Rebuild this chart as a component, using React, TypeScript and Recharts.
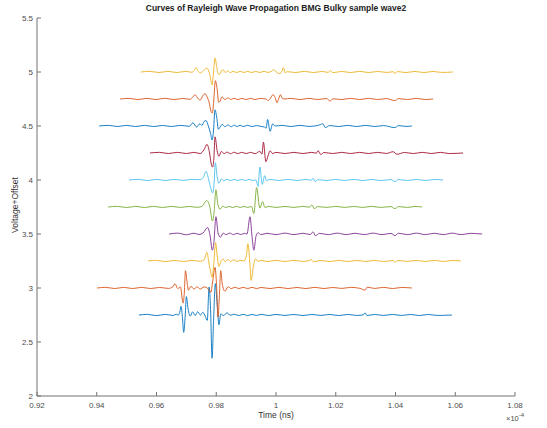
import React from 'react';
import { LineChart, Line, XAxis, YAxis } from 'recharts';

// time in units of 1e-4, voltage + offset
const timeTicks = [0.92, 0.94, 0.96, 0.98, 1, 1.02, 1.04, 1.06, 1.08];
const voltTicks = [2, 2.5, 3, 3.5, 4, 4.5, 5, 5.5];

const wave1: [number, number][] = [
  [0.9541, 2.75], [0.957, 2.756], [0.96, 2.744], [0.963, 2.756], [0.9655, 2.745], [0.9666, 2.757], [0.9673, 2.748],
  [0.9679, 2.79], [0.9682, 2.83], [0.9687, 2.72], [0.9691, 2.59], [0.9696, 2.74], [0.97, 2.92], [0.9705, 2.82],
  [0.9713, 2.74], [0.9721, 2.78], [0.9729, 2.745], [0.9738, 2.78], [0.9747, 2.75], [0.9755, 2.775], [0.9763, 2.74],
  [0.977, 2.7], [0.9776, 3.01], [0.9781, 2.8], [0.9786, 2.35], [0.9791, 2.7], [0.9797, 3.04], [0.9803, 2.85],
  [0.9809, 2.66], [0.9815, 2.76], [0.9824, 2.745], [0.9836, 2.77], [0.9847, 2.748], [0.986, 2.757], [0.9875, 2.745],
  [0.989, 2.756], [0.9905, 2.745], [0.992, 2.755], [0.9935, 2.746], [0.995, 2.756], [0.9975, 2.745], [1.0, 2.755],
  [1.003, 2.746], [1.006, 2.755], [1.009, 2.745], [1.012, 2.755], [1.015, 2.746], [1.018, 2.755], [1.021, 2.745],
  [1.024, 2.755], [1.027, 2.746], [1.0293, 2.752], [1.0298, 2.77], [1.0305, 2.745], [1.033, 2.755], [1.036, 2.746],
  [1.039, 2.755], [1.042, 2.746], [1.045, 2.755], [1.048, 2.745], [1.051, 2.755], [1.054, 2.746], [1.0589, 2.75],
];

const wave2: [number, number][] = [
  [0.9401, 3.0], [0.943, 3.006], [0.946, 2.995], [0.949, 3.006], [0.952, 2.995], [0.955, 3.006], [0.958, 2.995],
  [0.961, 3.005], [0.964, 2.996], [0.9655, 3.012], [0.9662, 3.04], [0.9671, 2.995], [0.968, 3.01], [0.9689, 2.86],
  [0.9693, 2.95], [0.9697, 3.16], [0.9702, 3.06], [0.9707, 2.98], [0.9715, 3.015], [0.9726, 2.99], [0.9736, 3.012],
  [0.9746, 2.99], [0.9759, 3.01], [0.9772, 2.995], [0.9782, 2.96], [0.9788, 3.06], [0.9796, 3.19], [0.9801, 3.03],
  [0.9806, 2.73], [0.981, 2.9], [0.9815, 3.16], [0.982, 3.04], [0.9829, 2.97], [0.984, 3.012], [0.985, 2.994],
  [0.9862, 3.007], [0.9876, 2.995], [0.989, 3.006], [0.9905, 2.995], [0.992, 3.006], [0.9935, 2.995], [0.995, 3.005],
  [0.998, 2.995], [1.001, 3.006], [1.004, 2.995], [1.007, 3.005], [1.01, 2.995], [1.013, 3.006], [1.016, 2.995],
  [1.019, 3.005], [1.022, 2.996], [1.025, 3.006], [1.028, 2.997], [1.0298, 2.98], [1.0305, 3.008], [1.033, 2.996],
  [1.036, 3.006], [1.039, 2.995], [1.042, 3.005], [1.0455, 3.0],
];

const wave3: [number, number][] = [
  [0.9572, 3.25], [0.96, 3.256], [0.963, 3.244], [0.966, 3.256], [0.969, 3.245], [0.972, 3.256], [0.9746, 3.247],
  [0.9759, 3.26], [0.9769, 3.33], [0.9775, 3.24], [0.9782, 3.14], [0.9786, 3.1], [0.9791, 3.2], [0.9798, 3.42],
  [0.9803, 3.3], [0.9809, 3.2], [0.9816, 3.25], [0.9823, 3.268], [0.983, 3.244], [0.9839, 3.265], [0.9848, 3.245],
  [0.9858, 3.26], [0.987, 3.246], [0.988, 3.256], [0.9893, 3.25], [0.9901, 3.3], [0.9906, 3.41], [0.9912, 3.25],
  [0.9917, 3.07], [0.9924, 3.2], [0.9932, 3.27], [0.994, 3.245], [0.995, 3.257], [0.997, 3.245], [1.0, 3.256],
  [1.003, 3.245], [1.006, 3.256], [1.009, 3.246], [1.0112, 3.254], [1.0118, 3.264], [1.0125, 3.243], [1.015, 3.255],
  [1.018, 3.245], [1.021, 3.256], [1.024, 3.245], [1.027, 3.255], [1.03, 3.246], [1.033, 3.256], [1.036, 3.245],
  [1.0392, 3.254], [1.0398, 3.238], [1.0406, 3.255], [1.044, 3.246], [1.047, 3.256], [1.05, 3.245], [1.053, 3.256],
  [1.056, 3.245], [1.059, 3.255], [1.0619, 3.25],
];

const wave4: [number, number][] = [
  [0.9642, 3.5], [0.967, 3.508], [0.97, 3.493], [0.9725, 3.507], [0.9742, 3.496], [0.9756, 3.51], [0.9771, 3.56],
  [0.9779, 3.49], [0.9787, 3.35], [0.9792, 3.42], [0.9799, 3.66], [0.9806, 3.51], [0.9814, 3.47], [0.9823, 3.508],
  [0.9833, 3.494], [0.9845, 3.508], [0.9858, 3.494], [0.987, 3.507], [0.9882, 3.495], [0.9895, 3.506], [0.9903, 3.5],
  [0.9913, 3.66], [0.9919, 3.5], [0.9926, 3.35], [0.9933, 3.48], [0.994, 3.512], [0.995, 3.494], [0.997, 3.507],
  [1.0, 3.494], [1.003, 3.508], [1.006, 3.494], [1.009, 3.507], [1.0115, 3.495], [1.0124, 3.52], [1.0132, 3.484],
  [1.0145, 3.506], [1.0175, 3.494], [1.0205, 3.508], [1.0235, 3.494], [1.0265, 3.507], [1.0295, 3.494], [1.0325, 3.508],
  [1.0355, 3.494], [1.0385, 3.506], [1.0398, 3.485], [1.041, 3.507], [1.044, 3.494], [1.047, 3.508], [1.05, 3.494],
  [1.053, 3.507], [1.056, 3.494], [1.059, 3.508], [1.062, 3.494], [1.065, 3.506], [1.069, 3.5],
];

const wave5: [number, number][] = [
  [0.9438, 3.75], [0.947, 3.756], [0.95, 3.745], [0.953, 3.756], [0.956, 3.745], [0.959, 3.756], [0.962, 3.745],
  [0.965, 3.756], [0.968, 3.746], [0.971, 3.755], [0.9735, 3.747], [0.9752, 3.756], [0.9768, 3.81], [0.9779, 3.745],
  [0.9787, 3.62], [0.9792, 3.68], [0.9799, 3.91], [0.9805, 3.78], [0.9813, 3.73], [0.9822, 3.758], [0.9832, 3.744],
  [0.9843, 3.756], [0.9855, 3.745], [0.9868, 3.756], [0.988, 3.746], [0.9893, 3.755], [0.9905, 3.746], [0.9918, 3.755],
  [0.9926, 3.69], [0.9935, 3.93], [0.9946, 3.74], [0.9955, 3.8], [0.9963, 3.745], [0.9975, 3.756], [1.0, 3.746],
  [1.003, 3.755], [1.006, 3.746], [1.009, 3.756], [1.0112, 3.748], [1.012, 3.77], [1.0128, 3.735], [1.014, 3.754],
  [1.017, 3.746], [1.02, 3.756], [1.023, 3.746], [1.026, 3.755], [1.029, 3.746], [1.032, 3.756], [1.035, 3.746],
  [1.0385, 3.754], [1.0398, 3.735], [1.041, 3.754], [1.044, 3.746], [1.0465, 3.755], [1.0489, 3.75],
];

const wave6: [number, number][] = [
  [0.9508, 4.0], [0.954, 4.006], [0.957, 3.995], [0.96, 4.006], [0.963, 3.995], [0.966, 4.006], [0.969, 3.996],
  [0.9715, 4.006], [0.9746, 4.003], [0.9756, 4.02], [0.9766, 4.08], [0.9775, 4.0], [0.9782, 3.92], [0.9788, 3.88],
  [0.9793, 3.98], [0.9797, 4.16], [0.9803, 4.03], [0.9809, 3.97], [0.9817, 4.01], [0.9826, 3.994], [0.9836, 4.007],
  [0.9848, 3.995], [0.986, 4.006], [0.9872, 3.995], [0.9885, 4.006], [0.9898, 3.995], [0.991, 4.006], [0.9922, 3.995],
  [0.9933, 4.0], [0.994, 3.94], [0.9946, 4.12], [0.9954, 3.96], [0.9962, 4.04], [0.9968, 3.995], [0.998, 4.006],
  [1.001, 3.995], [1.004, 4.006], [1.007, 3.995], [1.01, 4.005], [1.0118, 3.998], [1.0124, 4.016], [1.0131, 3.985],
  [1.014, 4.003], [1.017, 3.995], [1.02, 4.006], [1.023, 3.995], [1.026, 4.006], [1.029, 3.995], [1.032, 4.005],
  [1.035, 3.995], [1.0385, 4.004], [1.0398, 3.985], [1.041, 4.004], [1.044, 3.995], [1.047, 4.006], [1.05, 3.995],
  [1.053, 4.005], [1.0559, 4.0],
];

const wave7: [number, number][] = [
  [0.9578, 4.25], [0.961, 4.256], [0.964, 4.245], [0.967, 4.256], [0.97, 4.245], [0.9725, 4.256], [0.9746, 4.245],
  [0.9759, 4.28], [0.9769, 4.33], [0.9777, 4.26], [0.9784, 4.14], [0.9788, 4.12], [0.9792, 4.2], [0.9796, 4.4],
  [0.9803, 4.27], [0.9809, 4.22], [0.9817, 4.265], [0.9826, 4.244], [0.9836, 4.258], [0.9848, 4.243], [0.986, 4.257],
  [0.9872, 4.244], [0.9885, 4.256], [0.99, 4.245], [0.9915, 4.256], [0.993, 4.244], [0.9946, 4.265], [0.9953, 4.24],
  [0.9958, 4.35], [0.9966, 4.17], [0.9973, 4.22], [0.998, 4.27], [0.9989, 4.245], [1.0, 4.256], [1.003, 4.245],
  [1.006, 4.256], [1.009, 4.245], [1.012, 4.256], [1.0135, 4.248], [1.0141, 4.272], [1.015, 4.235], [1.016, 4.255],
  [1.019, 4.245], [1.022, 4.256], [1.025, 4.245], [1.028, 4.256], [1.031, 4.245], [1.034, 4.256], [1.037, 4.246],
  [1.0392, 4.262], [1.0405, 4.238], [1.043, 4.255], [1.046, 4.245], [1.049, 4.256], [1.052, 4.245], [1.055, 4.256],
  [1.058, 4.245], [1.0626, 4.25],
];

const wave8: [number, number][] = [
  [0.9408, 4.5], [0.944, 4.506], [0.947, 4.495], [0.95, 4.506], [0.953, 4.495], [0.956, 4.506], [0.959, 4.495],
  [0.962, 4.505], [0.965, 4.495], [0.968, 4.506], [0.971, 4.497], [0.9722, 4.53], [0.9734, 4.49], [0.9745, 4.52],
  [0.9752, 4.505], [0.9759, 4.54], [0.9766, 4.55], [0.9773, 4.505], [0.9781, 4.43], [0.9786, 4.37], [0.979, 4.43],
  [0.9796, 4.65], [0.9802, 4.57], [0.9807, 4.47], [0.9813, 4.49], [0.982, 4.515], [0.9829, 4.494], [0.9839, 4.51],
  [0.985, 4.493], [0.986, 4.508], [0.987, 4.495], [0.988, 4.507], [0.989, 4.495], [0.9905, 4.506], [0.992, 4.495],
  [0.9935, 4.504], [0.995, 4.496], [0.9962, 4.49], [0.9967, 4.48], [0.9972, 4.56], [0.998, 4.45], [0.9989, 4.52],
  [0.9997, 4.5], [1.002, 4.506], [1.005, 4.495], [1.008, 4.506], [1.011, 4.496], [1.014, 4.505], [1.0157, 4.52],
  [1.0165, 4.485], [1.018, 4.504], [1.021, 4.495], [1.024, 4.506], [1.027, 4.495], [1.03, 4.506], [1.033, 4.495],
  [1.036, 4.504], [1.0398, 4.485], [1.041, 4.504], [1.0435, 4.496], [1.0455, 4.5],
];

const wave9: [number, number][] = [
  [0.9478, 4.75], [0.9508, 4.756], [0.9538, 4.745], [0.9568, 4.756], [0.9598, 4.745], [0.9628, 4.757], [0.9658, 4.745],
  [0.9688, 4.755], [0.9712, 4.747], [0.9722, 4.77], [0.9729, 4.79], [0.9736, 4.765], [0.9746, 4.74], [0.9756, 4.785],
  [0.9763, 4.8], [0.9769, 4.77], [0.9776, 4.72], [0.9782, 4.64], [0.9787, 4.62], [0.9792, 4.75], [0.9797, 4.92],
  [0.9803, 4.84], [0.9808, 4.72], [0.9813, 4.73], [0.9819, 4.77], [0.9829, 4.745], [0.9839, 4.76], [0.985, 4.745],
  [0.986, 4.757], [0.9872, 4.744], [0.9885, 4.756], [0.99, 4.745], [0.9915, 4.756], [0.993, 4.745], [0.9945, 4.755],
  [0.9967, 4.75], [0.9973, 4.735], [0.998, 4.75], [0.999, 4.79], [0.9997, 4.765], [1.0003, 4.715], [1.001, 4.76],
  [1.0015, 4.79], [1.002, 4.76], [1.0027, 4.75], [1.005, 4.756], [1.008, 4.745], [1.011, 4.756], [1.014, 4.745],
  [1.017, 4.755], [1.0181, 4.73], [1.019, 4.752], [1.022, 4.745], [1.025, 4.756], [1.028, 4.745], [1.031, 4.756],
  [1.034, 4.745], [1.037, 4.754], [1.0398, 4.735], [1.041, 4.754], [1.044, 4.745], [1.047, 4.756], [1.05, 4.745],
  [1.0526, 4.75],
];

const wave10: [number, number][] = [
  [0.9548, 5.0], [0.9578, 5.006], [0.9608, 4.995], [0.9638, 5.006], [0.9668, 4.995], [0.9698, 5.006], [0.9718, 4.997],
  [0.9726, 5.015], [0.9733, 5.04], [0.974, 5.005], [0.9747, 4.99], [0.9755, 5.005], [0.9762, 5.025], [0.9768, 5.035],
  [0.9775, 5.01], [0.9781, 4.94], [0.9786, 4.88], [0.979, 4.97], [0.9796, 5.13], [0.9801, 5.06], [0.9806, 4.985],
  [0.9812, 4.98], [0.9817, 5.01], [0.9823, 5.02], [0.983, 4.995], [0.9838, 5.01], [0.9847, 4.994], [0.9857, 5.007],
  [0.9868, 4.995], [0.988, 5.006], [0.9892, 4.995], [0.9905, 5.006], [0.9918, 4.995], [0.9932, 5.005], [0.9946, 4.996],
  [0.996, 5.006], [0.9972, 4.996], [0.9983, 5.005], [0.9993, 5.02], [1.0003, 4.995], [1.0013, 4.985], [1.002, 5.01],
  [1.0025, 5.04], [1.003, 4.995], [1.0038, 5.003], [1.0065, 4.995], [1.0095, 5.006], [1.0125, 4.995], [1.0155, 5.005],
  [1.0175, 4.996], [1.0182, 5.015], [1.019, 4.994], [1.022, 5.005], [1.025, 4.995], [1.028, 5.006], [1.031, 4.995],
  [1.034, 5.005], [1.0372, 4.996], [1.0392, 5.003], [1.0398, 4.985], [1.0406, 5.004], [1.0435, 4.995], [1.0465, 5.005],
  [1.0495, 4.995], [1.0525, 5.005], [1.0555, 4.996], [1.0592, 5.0],
];

const waves = [wave1, wave2, wave3, wave4, wave5, wave6, wave7, wave8, wave9, wave10];
const colors = ['#0072BD', '#D95319', '#EDB120', '#7E2F8E', '#77AC30', '#4DBEEE', '#A2142F', '#0072BD', '#D95319', '#EDB120'];

const FONT = '"Liberation Sans", Arial, Helvetica, sans-serif';
const AXIS = '#737373';
const TXT = '#4d4d4d';

const XTick = (props: any) => {
  const { x, y, payload } = props;
  return (
    <g>
      <line x1={x} y1={y} x2={x} y2={y - 4} stroke={AXIS} strokeWidth={1} />
      <text x={x} y={y + 12} textAnchor="middle" fontSize={8} fontFamily={FONT} fill={TXT}>
        {String(payload.value)}
      </text>
    </g>
  );
};

const YTick = (props: any) => {
  const { x, y, payload } = props;
  return (
    <g>
      <line x1={x} y1={y} x2={x + 4} y2={y} stroke={AXIS} strokeWidth={1} />
      <text x={x - 4} y={y + 3} textAnchor="end" fontSize={8} fontFamily={FONT} fill={TXT}>
        {String(payload.value)}
      </text>
    </g>
  );
};

export default function App() {
  return (
    <div style={{ position: 'absolute', left: 0, top: 0, width: 547, height: 428, background: '#fff', fontFamily: FONT }}>
      <LineChart width={547} height={428} margin={{ top: 18, right: 32, bottom: 0, left: 0 }}>
        <XAxis
          dataKey="t"
          type="number"
          domain={[0.92, 1.08]}
          ticks={timeTicks}
          interval={0}
          allowDataOverflow
          height={32}
          tickSize={0}
          tickMargin={0}
          stroke={AXIS}
          tick={<XTick />}
        />
        <YAxis
          type="number"
          domain={[2, 5.5]}
          ticks={voltTicks}
          interval={0}
          allowDataOverflow
          width={37}
          tickSize={0}
          tickMargin={0}
          stroke={AXIS}
          tick={<YTick />}
        />
        {waves.map((w, i) => (
          <Line
            key={i}
            data={w.map(([t, v]) => ({ t, v }))}
            dataKey="v"
            type="monotone"
            stroke={colors[i]}
            strokeWidth={0.9}
            dot={false}
            activeDot={false}
            isAnimationActive={false}
          />
        ))}
      </LineChart>
      <div style={{ position: 'absolute', left: 0, width: 547, top: 3, textAlign: 'center', fontSize: 8.5, fontWeight: 'bold', color: '#222', paddingLeft: 5, boxSizing: 'border-box' }}>
        Curves of Rayleigh Wave Propagation BMG Bulky sample wave2
      </div>
      <div style={{ position: 'absolute', left: 236, width: 80, top: 410, textAlign: 'center', fontSize: 8.5, color: '#333' }}>
        Time (ns)
      </div>
      <div style={{ position: 'absolute', left: 506, top: 414, fontSize: 7.5, color: TXT, whiteSpace: 'nowrap' }}>
        ×10<sup style={{ fontSize: 6, verticalAlign: 'top', position: 'relative', top: -2 }}>-4</sup>
      </div>
      <div style={{ position: 'absolute', left: 15, top: 205, transform: 'translate(-50%, -50%) rotate(-90deg)', fontSize: 8.5, color: '#333', whiteSpace: 'nowrap' }}>
        Voltage+Offset
      </div>
    </div>
  );
}
